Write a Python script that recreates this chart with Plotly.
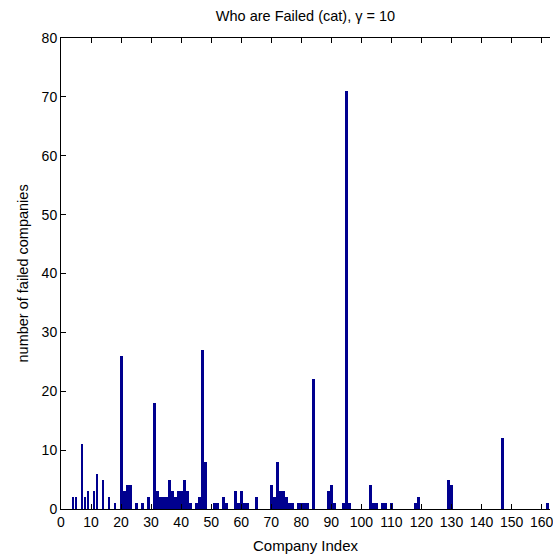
import plotly.graph_objects as go

# Companies with at least one failure and the number of failed companies each
company_index = [4, 5, 7, 8, 9, 11, 12, 14, 16, 18, 20, 21, 22, 23, 25, 27, 29, 31, 32,
                 33, 34, 35, 36, 37, 38, 39, 40, 41, 42, 43, 45, 46, 47, 48, 51, 52, 54,
                 55, 58, 59, 60, 61, 62, 65, 70, 71, 72, 73, 74, 75, 76, 77, 79, 80, 81,
                 82, 84, 89, 90, 91, 94, 95, 96, 103, 104, 105, 107, 108, 110, 118, 119,
                 129, 130, 147, 162]
failed_count = [2, 2, 11, 2, 3, 3, 6, 5, 2, 1, 26, 3, 4, 4, 1, 1, 2, 18, 3,
                2, 2, 2, 5, 3, 2, 3, 3, 5, 3, 1, 1, 2, 27, 8, 1, 1, 2,
                1, 3, 1, 3, 1, 1, 2, 4, 2, 8, 3, 3, 2, 1, 1, 1, 1, 1,
                1, 22, 3, 4, 1, 1, 71, 1, 4, 1, 1, 1, 1, 1, 1, 2,
                5, 4, 12, 1]

x_ticks = list(range(0, 161, 10))
y_ticks = list(range(0, 81, 10))

FONT = "Liberation Sans, Arial, Helvetica, sans-serif"

fig = go.Figure(
    go.Bar(
        x=company_index,
        y=failed_count,
        width=0.95,
        marker=dict(color="#00008F", line=dict(width=0)),
        hoverinfo="x+y",
    )
)

fig.update_layout(
    width=553,
    height=555,
    margin=dict(l=61, r=0, t=38, b=46),
    paper_bgcolor="white",
    plot_bgcolor="white",
    showlegend=False,
    font=dict(family=FONT, size=13, color="black"),
    title=dict(
        text="Who are Failed (cat), γ = 10",
        x=0.5, xref="paper", xanchor="center",
        y=1 - 16 / 555, yref="container", yanchor="middle",
        font=dict(family=FONT, size=14.5, color="black"),
    ),
    bargap=0,
)

fig.update_xaxes(
    range=[0, 162.8],
    tickmode="array",
    tickvals=x_ticks,
    ticktext=[str(v) for v in x_ticks],
    ticks="inside",
    ticklen=5,
    tickcolor="black",
    showline=True,
    linecolor="black",
    linewidth=1,
    mirror="ticks",
    showgrid=False,
    zeroline=False,
    ticklabeloverflow="allow",
    tickfont=dict(family=FONT, size=14, color="black"),
)

fig.update_yaxes(
    range=[0, 80],
    tickmode="array",
    tickvals=y_ticks,
    ticktext=[str(v) for v in y_ticks],
    ticks="inside",
    ticklen=5,
    tickcolor="black",
    showline=True,
    linecolor="black",
    linewidth=1,
    mirror=False,
    showgrid=False,
    zeroline=False,
    tickfont=dict(family=FONT, size=14, color="black"),
)

# Axis titles
fig.add_annotation(
    text="Company Index",
    xref="paper", yref="paper", x=0.5, y=0,
    xanchor="center", yanchor="middle", yshift=-36,
    showarrow=False,
    font=dict(family=FONT, size=15, color="black"),
)
fig.add_annotation(
    text="number of failed companies",
    xref="paper", yref="paper", x=0, y=0.5,
    xanchor="center", yanchor="middle", xshift=-39,
    textangle=-90,
    showarrow=False,
    font=dict(family=FONT, size=14.5, color="black"),
)

fig.write_html("out.html")
